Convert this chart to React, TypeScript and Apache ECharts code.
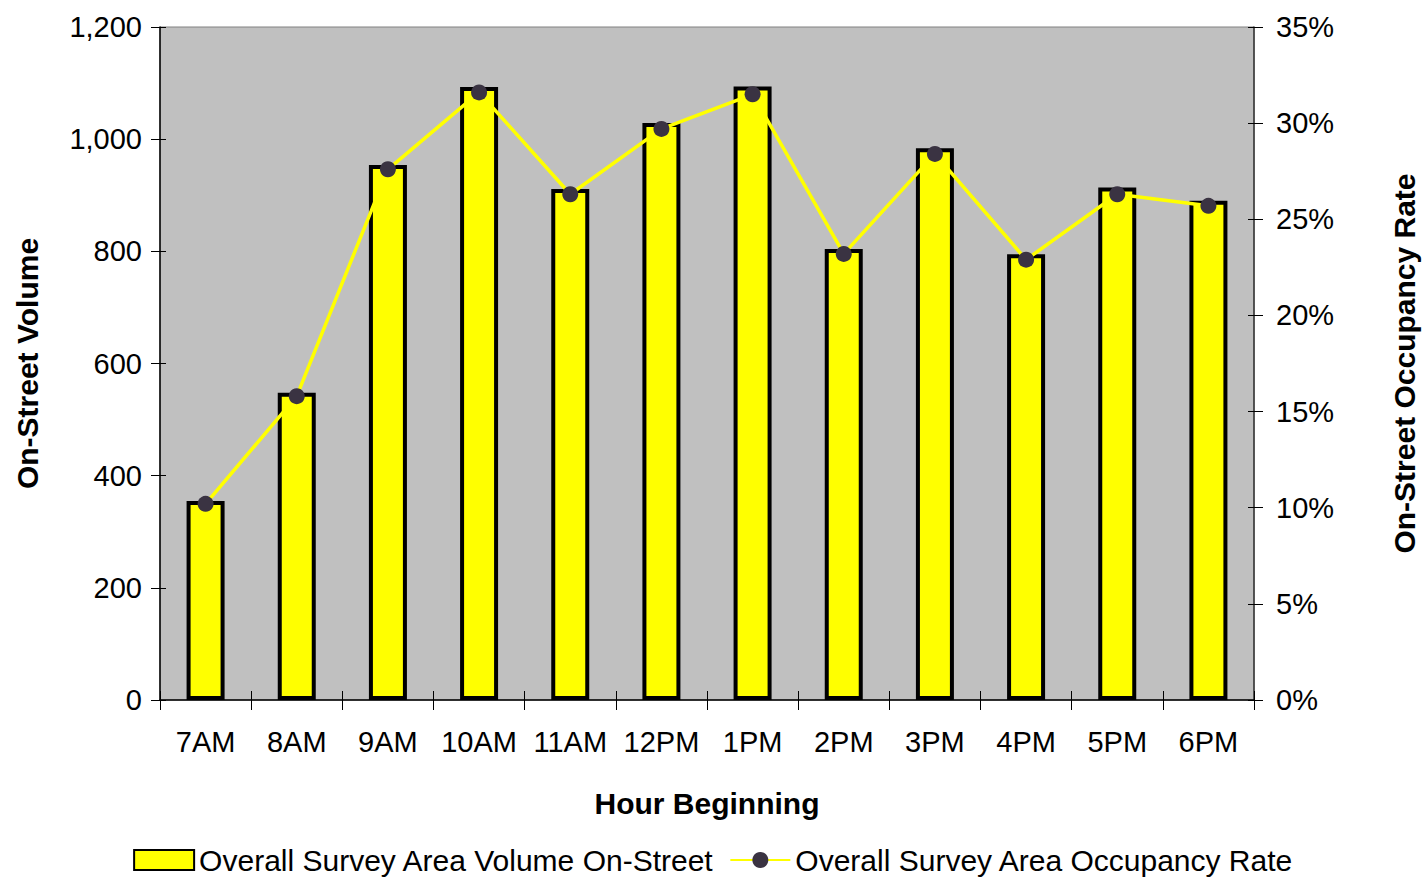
import React, { useEffect, useRef } from "react";
import * as echarts from "echarts";

// Hour-of-day categories
const hours = ["7AM", "8AM", "9AM", "10AM", "11AM", "12PM", "1PM", "2PM", "3PM", "4PM", "5PM", "6PM"];

// Parked vehicles counted on-street per hour
const volumeOnStreet = [355, 548, 954, 1093, 911, 1029, 1094, 804, 984, 795, 914, 890];

// On-street occupancy rate per hour (%)
const occupancyRate = [10.2, 15.8, 27.6, 31.6, 26.3, 29.7, 31.5, 23.2, 28.4, 22.9, 26.3, 25.7];

const volumeTicks = { min: 0, max: 1200, interval: 200 };
const rateTicks = { min: 0, max: 35, interval: 5 };

const FONT = "Liberation Sans, Arial, sans-serif";

export default function App() {
  const ref = useRef<HTMLDivElement>(null);

  useEffect(() => {
    if (!ref.current) return;
    const chart = echarts.init(ref.current, null, { renderer: "svg" });

    const labelStyle = { color: "#000", fontFamily: FONT, fontSize: 29 };
    const nameStyle = { color: "#000", fontFamily: FONT, fontSize: 30, fontWeight: "bold" as const };

    chart.setOption({
      animation: false,
      backgroundColor: "#ffffff",
      grid: {
        left: 160,
        top: 27,
        right: 172,
        bottom: 180,
        show: true,
        backgroundColor: "#c0c0c0",
        borderColor: "#808080",
        borderWidth: 1,
      },
      legend: {
        top: 840,
        left: "center",
        itemWidth: 60,
        itemHeight: 20,
        itemGap: 15,
        textStyle: { color: "#000", fontFamily: FONT, fontSize: 30 },
        data: [
          { name: "Overall Survey Area Volume On-Street", icon: "rect" },
          { name: "Overall Survey Area Occupancy Rate" },
        ],
      },
      xAxis: [
        {
          type: "category",
          data: hours,
          position: "bottom",
          name: "Hour Beginning",
          nameLocation: "middle",
          nameGap: 88,
          nameTextStyle: nameStyle,
          axisLine: { show: true, lineStyle: { color: "#000", width: 1.5 } },
          axisTick: { show: true, interval: 0, inside: false, length: 10, lineStyle: { color: "#000" } },
          axisLabel: { ...labelStyle, margin: 27, interval: 0, hideOverlap: false },
          splitLine: { show: false },
        },
        {
          type: "category",
          data: hours,
          position: "bottom",
          axisLine: { show: false },
          axisTick: { show: true, interval: 0, inside: true, length: 9, lineStyle: { color: "#000" } },
          axisLabel: { show: false },
          splitLine: { show: false },
        },
      ],
      yAxis: [
        {
          type: "value",
          position: "left",
          ...volumeTicks,
          name: "On-Street Volume",
          nameLocation: "middle",
          nameGap: 118,
          nameRotate: 90,
          nameTextStyle: nameStyle,
          axisLine: { show: true, lineStyle: { color: "#000", width: 1.5 } },
          axisTick: { show: true, inside: false, length: 9, lineStyle: { color: "#000" } },
          axisLabel: {
            ...labelStyle,
            margin: 18,
            formatter: (v: number) => v.toLocaleString("en-US"),
          },
          splitLine: { show: false },
        },
        {
          type: "value",
          position: "right",
          ...rateTicks,
          name: "On-Street Occupancy Rate",
          nameLocation: "middle",
          nameGap: 135,
          nameRotate: 90,
          nameTextStyle: nameStyle,
          axisLine: { show: true, lineStyle: { color: "#333", width: 1.5 } },
          axisTick: { show: true, inside: false, length: 9, lineStyle: { color: "#000" } },
          axisLabel: { ...labelStyle, margin: 22, formatter: "{value}%" },
          splitLine: { show: false },
        },
        {
          type: "value",
          position: "left",
          ...volumeTicks,
          axisLine: { show: false },
          axisTick: { show: true, inside: true, length: 6, lineStyle: { color: "#000" } },
          axisLabel: { show: false },
          splitLine: { show: false },
        },
        {
          type: "value",
          position: "right",
          ...rateTicks,
          axisLine: { show: false },
          axisTick: { show: true, inside: true, length: 6, lineStyle: { color: "#000" } },
          axisLabel: { show: false },
          splitLine: { show: false },
        },
      ],
      series: [
        {
          name: "Overall Survey Area Volume On-Street",
          type: "bar",
          xAxisIndex: 0,
          yAxisIndex: 0,
          data: volumeOnStreet,
          barWidth: 38,
          itemStyle: { color: "#ffff00", borderColor: "#000", borderWidth: 4 },
          z: 2,
        },
        {
          name: "Overall Survey Area Occupancy Rate",
          type: "line",
          xAxisIndex: 0,
          yAxisIndex: 1,
          data: occupancyRate,
          symbol: "circle",
          symbolSize: 16,
          lineStyle: { color: "#ffff00", width: 3.5 },
          itemStyle: { color: "#3a3342", borderWidth: 0 },
          z: 3,
        },
      ],
    });

    return () => chart.dispose();
  }, []);

  return (
    <div
      ref={ref}
      style={{ position: "absolute", left: 0, top: 0, width: 1427, height: 880 }}
    />
  );
}
